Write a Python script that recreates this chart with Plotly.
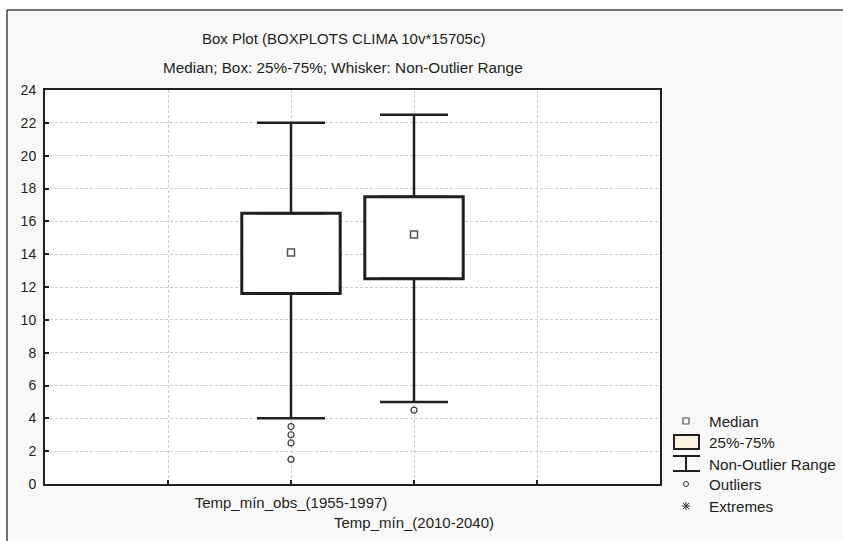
import plotly.graph_objects as go

# ---------------- data ----------------
categories = ["Temp_mín_obs_(1955-1997)", "Temp_mín_(2010-2040)"]
medians = [14.1, 15.2]
q1 = [11.6, 12.5]
q3 = [16.5, 17.5]
whisker_low = [4.0, 5.0]
whisker_high = [22.0, 22.5]
outliers = [[3.5, 3.0, 2.5, 1.5], [4.5]]
y_ticks = list(range(0, 25, 2))
legend_labels = ["Median", "25%-75%", "Non-Outlier Range", "Outliers", "Extremes"]
title_text = "Box Plot (BOXPLOTS CLIMA 10v*15705c)"
subtitle_text = "Median; Box: 25%-75%; Whisker: Non-Outlier Range"

# ---------------- layout helpers ----------------
OFF = 0                      # page body margin removed by post_script
W, H = 843, 541              # figure size
# plot area in screen pixels
SL, SR, ST, SB = 45, 660, 90, 484
L, R, T, B = SL - OFF, SR - OFF, ST - OFF, SB - OFF
FONT = "Liberation Sans, Arial, sans-serif"
INK = "#231f20"

def px(xs):
    """screen x pixel -> paper coordinate"""
    return (xs - OFF - L) / (R - L)

def py(ys_):
    """screen y pixel -> paper coordinate"""
    return (B - (ys_ - OFF)) / (B - T)

xpos = [i + 2 for i in range(len(categories))]
xlabels = [categories[0]] + ["<br>" + c for c in categories[1:]]

fig = go.Figure()

# boxes
fig.add_trace(go.Bar(
    x=xpos, y=[b - a for a, b in zip(q1, q3)], base=q1, width=0.8,
    marker=dict(color="white", line=dict(color=INK, width=3)),
    showlegend=False, hoverinfo="skip"))

# upper whiskers
fig.add_trace(go.Scatter(
    x=xpos, y=q3, mode="markers",
    marker=dict(size=1, color="rgba(0,0,0,0)"),
    error_y=dict(type="data", symmetric=False,
                 array=[h - t for h, t in zip(whisker_high, q3)],
                 arrayminus=[0] * len(q3), width=34, thickness=2.5, color=INK),
    showlegend=False, hoverinfo="skip"))

# lower whiskers
fig.add_trace(go.Scatter(
    x=xpos, y=q1, mode="markers",
    marker=dict(size=1, color="rgba(0,0,0,0)"),
    error_y=dict(type="data", symmetric=False,
                 array=[0] * len(q1),
                 arrayminus=[a - l for a, l in zip(q1, whisker_low)],
                 width=34, thickness=2.5, color=INK),
    showlegend=False, hoverinfo="skip"))

# medians
fig.add_trace(go.Scatter(
    x=xpos, y=medians, mode="markers",
    marker=dict(symbol="square-open", size=7, color="#555555", line=dict(width=1.5)),
    showlegend=False))

# outliers
ox = [xpos[i] for i, vals in enumerate(outliers) for _ in vals]
oy = [v for vals in outliers for v in vals]
fig.add_trace(go.Scatter(
    x=ox, y=oy, mode="markers",
    marker=dict(symbol="circle-open", size=6, color="#333333", line=dict(width=1.2)),
    showlegend=False))

shapes = []
# white strips outside the outer frame, and the frame lines (top and left)
shapes.append(dict(type="rect", xref="paper", yref="paper", x0=px(-5), x1=px(W + 5),
                   y0=py(-5), y1=py(10), fillcolor="white", line=dict(width=0), layer="above"))
shapes.append(dict(type="rect", xref="paper", yref="paper", x0=px(-5), x1=px(7),
                   y0=py(-5), y1=py(H + 5), fillcolor="white", line=dict(width=0), layer="above"))
shapes.append(dict(type="line", xref="paper", yref="paper", x0=px(7), x1=px(W + 5), y0=py(10), y1=py(10),
                   line=dict(color="#444444", width=1.5)))
shapes.append(dict(type="line", xref="paper", yref="paper", x0=px(7), x1=px(7), y0=py(10), y1=py(H + 5),
                   line=dict(color="#444444", width=1.5)))

# legend symbols (screen pixels)
lx = 686
ys = [421, 442, 464, 484, 506]
shapes.append(dict(type="rect", xref="paper", yref="paper", x0=px(lx - 3), x1=px(lx + 3),
                   y0=py(ys[0] - 3), y1=py(ys[0] + 3), line=dict(color="#555555", width=1.2)))
shapes.append(dict(type="rect", xref="paper", yref="paper", x0=px(674), x1=px(699),
                   y0=py(435), y1=py(449), fillcolor="#fbf3e2", line=dict(color=INK, width=2)))
shapes.append(dict(type="line", xref="paper", yref="paper", x0=px(673), x1=px(700),
                   y0=py(456), y1=py(456), line=dict(color=INK, width=2)))
shapes.append(dict(type="line", xref="paper", yref="paper", x0=px(673), x1=px(700),
                   y0=py(471), y1=py(471), line=dict(color=INK, width=2)))
shapes.append(dict(type="line", xref="paper", yref="paper", x0=px(lx), x1=px(lx),
                   y0=py(456), y1=py(471), line=dict(color=INK, width=2)))
shapes.append(dict(type="circle", xref="paper", yref="paper", x0=px(lx - 2.5), x1=px(lx + 2.5),
                   y0=py(ys[3] - 2.5), y1=py(ys[3] + 2.5), line=dict(color="#333333", width=1)))
r = 4
for dx, dy in [(0, r), (r, 0), (r * 0.75, r * 0.75), (r * 0.75, -r * 0.75)]:
    shapes.append(dict(type="line", xref="paper", yref="paper",
                       x0=px(lx - dx), x1=px(lx + dx), y0=py(ys[4] - dy), y1=py(ys[4] + dy),
                       line=dict(color="#333333", width=1)))

annotations = [
    dict(text=title_text, x=px(343), y=py(38), xref="paper", yref="paper", showarrow=False,
         xanchor="center", yanchor="middle", font=dict(size=15, color=INK, family=FONT)),
    dict(text=subtitle_text, x=px(343), y=py(68), xref="paper", yref="paper", showarrow=False,
         xanchor="center", yanchor="middle", font=dict(size=15.3, color=INK, family=FONT)),
]
for lab, yy in zip(legend_labels, ys):
    annotations.append(dict(text=lab, x=px(707), y=py(yy), xref="paper", yref="paper", showarrow=False,
                            xanchor="left", yanchor="middle", font=dict(size=15.2, color=INK, family=FONT)))

grid = dict(showgrid=True, gridcolor="#cccccc", griddash="3px,2px", gridwidth=1)
fig.update_layout(
    width=W, height=H,
    margin=dict(l=L, r=W - R, t=T, b=H - B, pad=0, autoexpand=False),
    paper_bgcolor="#f9f9f9", plot_bgcolor="white",
    font=dict(family=FONT, size=14, color=INK),
    showlegend=False,
    shapes=shapes, annotations=annotations,
    xaxis=dict(range=[0, 5], tickmode="array", tickvals=[0, 1] + xpos + [4, 5],
               ticktext=["", ""] + xlabels + ["", ""], tickangle=0, automargin=False,
               tickfont=dict(size=15), ticklabelstandoff=4,
               ticks="inside", ticklen=4, tickwidth=2, tickcolor=INK,
               showline=True, linecolor=INK, linewidth=2, mirror=True,
               zeroline=False, fixedrange=True, **grid),
    yaxis=dict(range=[0, 24], tickmode="array", tickvals=y_ticks, automargin=False,
               ticks="inside", ticklen=4, tickwidth=2, tickcolor=INK, ticklabelstandoff=4,
               showline=True, linecolor=INK, linewidth=2, mirror=True,
               zeroline=False, fixedrange=True, **grid),
)

fig.write_html(
    "out.html",
    config={"displayModeBar": False},
    post_script="document.body.style.margin='0';document.body.style.overflow='hidden';"
                "document.documentElement.style.overflow='hidden';",
)
